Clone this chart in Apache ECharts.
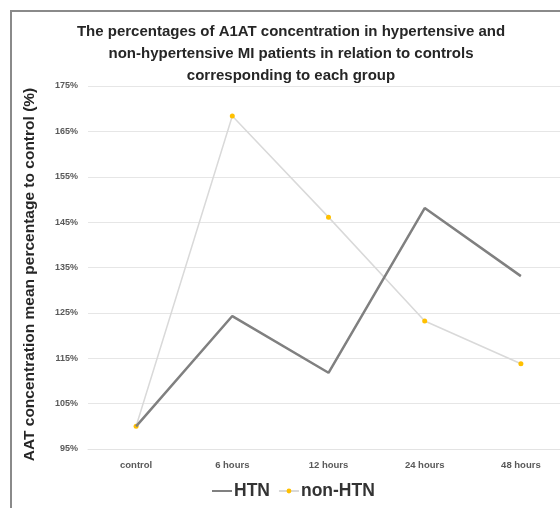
<!DOCTYPE html>
<html>
<head>
<meta charset="utf-8">
<script src="https://cdn.jsdelivr.net/npm/echarts@6/dist/echarts.min.js"></script>
<style>
  html, body { margin: 0; padding: 0; background: #fff; overflow: hidden; }
  /* the source figure is cropped on the right, so the canvas runs a little past the window */
  #chart { width: 569px; height: 508px; }
</style>
</head>
<body>
<div id="chart"></div>
<script>
const categories = ['control', '6 hours', '12 hours', '24 hours', '48 hours']
const htnValues = [100, 124.3, 111.8, 148.1, 133.1]
const nonHtnValues = [100, 168.4, 146.1, 123.2, 113.8]
const yTicks = { min: 95, max: 175, interval: 10 }

const chart = echarts.init(document.getElementById('chart'))

const option = {
  animation: false,
  textStyle: { fontFamily: 'Liberation Sans' },
  title: {
    text: 'The percentages of A1AT concentration in hypertensive and\nnon-hypertensive MI patients in relation to controls\ncorresponding to each group',
    left: 286,
    textAlign: 'center',
    top: 16,
    textStyle: {
      fontSize: 15,
      fontWeight: 'bold',
      color: '#262626',
      lineHeight: 22
    }
  },
  legend: {
    data: [
      { name: 'HTN', icon: 'path://M0,0H20V2H0Z' },
      { name: 'non-HTN' }
    ],
    left: 207,
    top: 477,
    itemWidth: 20,
    itemHeight: 6,
    itemGap: 8,
    textStyle: { fontSize: 17.5, fontWeight: 'bold', color: '#333', padding: [0, 0, 0, -3] }
  },
  grid: { left: 88, right: 0, top: 86, bottom: 59 },
  xAxis: {
    type: 'category',
    data: categories,
    axisLine: { lineStyle: { color: '#e3e3e3' } },
    axisTick: { show: false },
    axisLabel: { color: '#595959', fontSize: 9.5, fontWeight: 'bold', margin: 11 }
  },
  yAxis: {
    type: 'value',
    min: yTicks.min,
    max: yTicks.max,
    interval: yTicks.interval,
    name: 'AAT concentration mean percentage to control (%)',
    nameLocation: 'middle',
    nameGap: 50,
    nameTextStyle: { fontSize: 15.5, fontWeight: 'bold', color: '#262626', padding: [0, 0, 0, -14] },
    axisLine: { show: false },
    axisTick: { show: false },
    axisLabel: { formatter: '{value}%', color: '#595959', fontSize: 9, fontWeight: 'bold', margin: 10 },
    splitLine: { lineStyle: { color: '#e6e6e6', width: 1.2 } }
  },
  graphic: [{
    type: 'polyline',
    shape: { points: [[11, 508], [11, 11], [569, 11]] },
    style: { stroke: '#8a8a8a', lineWidth: 2, fill: null }
  }],
  series: [
    {
      name: 'non-HTN',
      type: 'line',
      data: nonHtnValues,
      symbol: 'circle',
      symbolSize: 5,
      itemStyle: { color: '#ffc000' },
      lineStyle: { color: '#d9d9d9', width: 1.5 },
      z: 2
    },
    {
      name: 'HTN',
      type: 'line',
      data: htnValues,
      symbol: 'none',
      itemStyle: { color: '#808080' },
      lineStyle: { color: '#808080', width: 2.5 },
      z: 3
    }
  ]
}

chart.setOption(option)
</script>
</body>
</html>
